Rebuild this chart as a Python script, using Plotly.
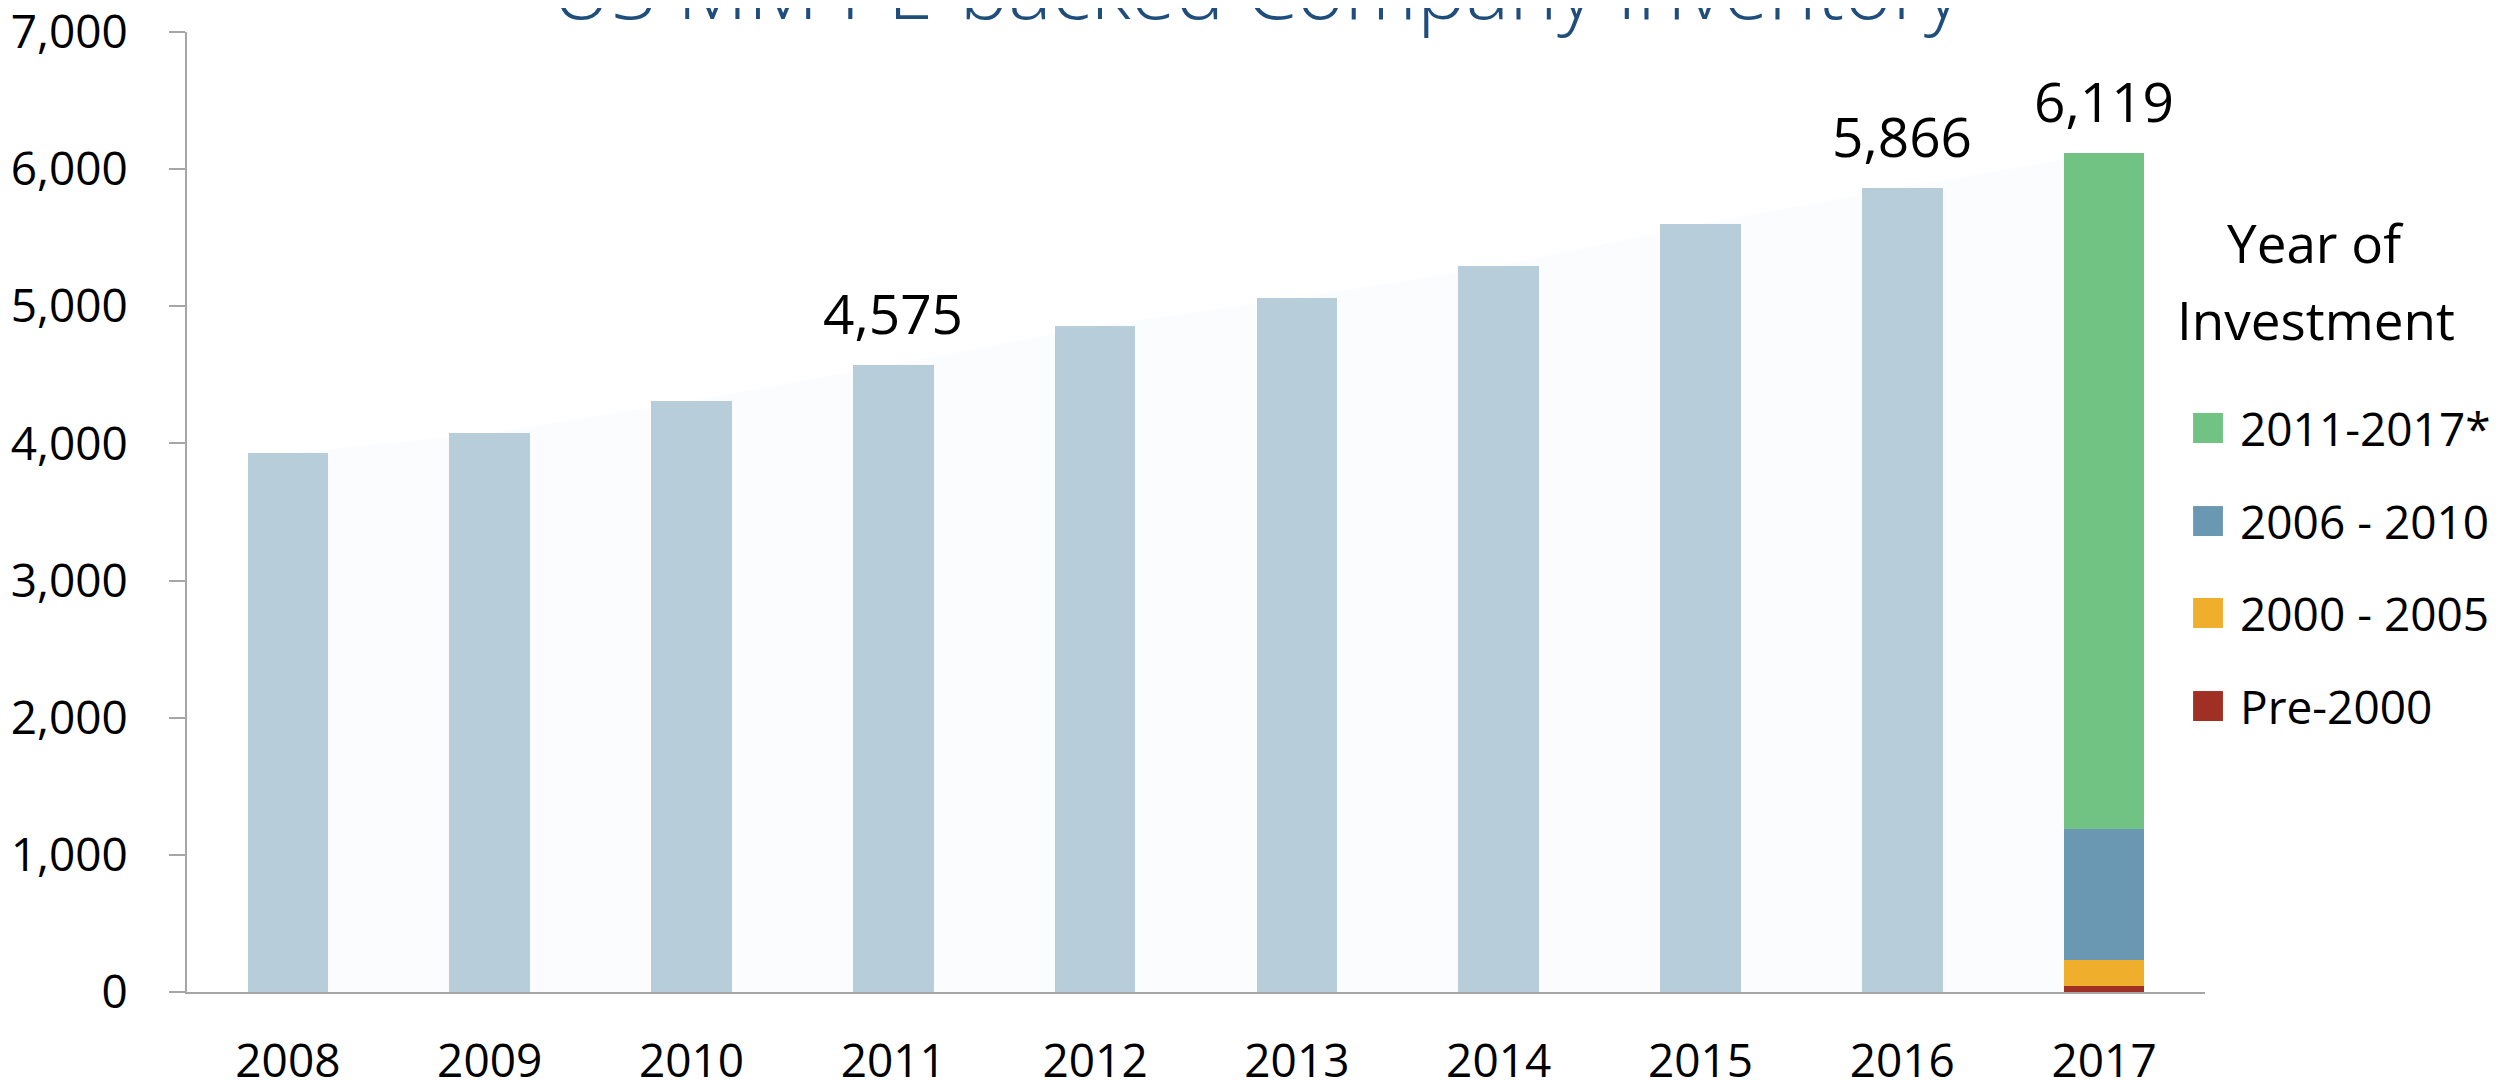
import plotly.graph_objects as go

# ---- data ----
years = ["2008", "2009", "2010", "2011", "2012", "2013", "2014", "2015", "2016", "2017"]
inventory_prior = [3930, 4075, 4310, 4575, 4855, 5060, 5295, 5600, 5866]   # 2008-2016
total_2017 = 6119
seg_names = ["Pre-2000", "2000 - 2005", "2006 - 2010", "2011-2017*"]
seg_values = [44, 189, 956, 4930]
seg_colors = ["#A03024", "#F0AE2D", "#6A98B2", "#70C383"]
label_years = ["2011", "2016", "2017"]
label_values = [4575, 5866, 6119]
totals = inventory_prior + [total_2017]
y_ticks = [0, 1000, 2000, 3000, 4000, 5000, 6000, 7000]

FONT = "Open Sans"
fig = go.Figure()

# faint background area connecting totals (base axes -> drawn behind bars)
fig.add_trace(go.Scatter(
    x=years, y=totals, mode="lines", fill="tozeroy",
    line=dict(width=0, color="rgba(0,0,0,0)"),
    fillcolor="#FAFCFD", showlegend=False, hoverinfo="skip",
    xaxis="x", yaxis="y"))

# bars on overlay axes
fig.add_trace(go.Bar(
    x=years[:-1], y=inventory_prior, marker=dict(color="#B7CDD9", line=dict(width=0)),
    width=0.4, showlegend=False, xaxis="x2", yaxis="y2"))

for name, val, col in zip(seg_names, seg_values, seg_colors):
    fig.add_trace(go.Bar(
        x=[years[-1]], y=[val], name=name,
        marker=dict(color=col, line=dict(width=0)), width=0.4, showlegend=False,
        xaxis="x2", yaxis="y2"))

# data labels
for yr, v in zip(label_years, label_values):
    fig.add_annotation(xref="x", yref="y", x=years.index(yr), y=v, text=f"{v:,}",
                       showarrow=False, xanchor="center", yanchor="bottom", yshift=13,
                       font=dict(family=FONT, size=55, color="#000000"))

# manual legend (swatches + labels), top entry = last stacked segment
legend_y = [0.5875, 0.4906, 0.3948, 0.2979]
for i, (name, col) in enumerate(zip(seg_names[::-1], seg_colors[::-1])):
    yc = legend_y[i]
    fig.add_shape(type="rect", xref="paper", yref="paper",
                  x0=0.9941, x1=1.0089, y0=yc - 0.0156, y1=yc + 0.0156,
                  fillcolor=col, line=dict(width=0))
    fig.add_annotation(xref="paper", yref="paper", x=1.0164, y=yc,
                       text=name, showarrow=False, xanchor="left", yanchor="middle",
                       font=dict(family=FONT, size=46, color="#000000"))

fig.add_annotation(xref="paper", yref="paper", x=1.055, y=0.78125, text="Year of",
                   showarrow=False, xanchor="center", yanchor="middle",
                   font=dict(family=FONT, size=53, color="#000000"))
fig.add_annotation(xref="paper", yref="paper", x=1.055, y=0.701, text="Investment",
                   showarrow=False, xanchor="center", yanchor="middle",
                   font=dict(family=FONT, size=53, color="#000000"))

# title (partly cut off at the top, as in the reference)
fig.add_annotation(xref="paper", yref="paper", x=0.530, y=1, yshift=45,
                   text="US MM PE-backed Company Inventory", showarrow=False,
                   xanchor="center", yanchor="middle",
                   font=dict(family=FONT, size=82, weight=300, color="#1F4E7D"))

axis_common = dict(showgrid=False, zeroline=False)
fig.update_layout(
    width=2501, height=1080,
    margin=dict(l=179, r=304, t=24, b=96),
    paper_bgcolor="white", plot_bgcolor="white",
    barmode="stack", showlegend=False,
    font=dict(family=FONT, size=46, color="#000000"),
    xaxis=dict(type="category", categoryorder="array", categoryarray=years,
               range=[-0.5, 9.5], showline=True, linecolor="#A6A6A6", linewidth=2,
               ticks="", ticklabelstandoff=28, automargin=False,
               tickfont=dict(family=FONT, size=46, color="#000000"), **axis_common),
    yaxis=dict(range=[0, 7000], tickvals=y_ticks, tickformat=",d",
               showline=True, linecolor="#A6A6A6", linewidth=2,
               ticks="outside", ticklen=16, tickcolor="#A6A6A6", tickwidth=2,
               ticklabelstandoff=32, automargin=False, ticklabeloverflow="allow",
               tickfont=dict(family=FONT, size=46, color="#000000"), **axis_common),
    xaxis2=dict(type="category", categoryorder="array", categoryarray=years,
                range=[-0.5, 9.5], overlaying="x", visible=False, **axis_common),
    yaxis2=dict(range=[0, 7000], overlaying="y", visible=False, **axis_common),
)

fig.write_html("out.html")
